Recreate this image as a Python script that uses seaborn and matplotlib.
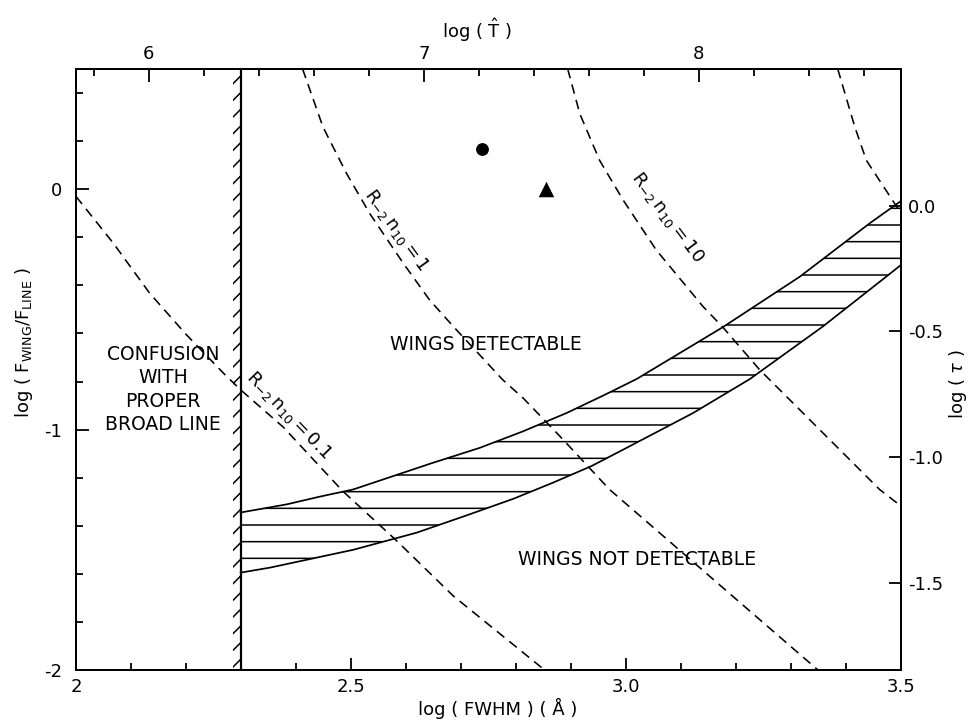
import numpy as np
import pandas as pd
import matplotlib
matplotlib.use("Agg")
import matplotlib.pyplot as plt
from matplotlib.ticker import MultipleLocator, FixedLocator, FixedFormatter
import seaborn as sns

# ---------------- data ----------------
# hatched band of detectability limits
band_upper_x = [2.299, 2.383, 2.443, 2.504, 2.649, 2.734, 2.813, 2.892, 2.958, 3.019, 3.176, 3.316, 3.443, 3.500]
band_upper_y = [-1.345, -1.311, -1.279, -1.249, -1.138, -1.076, -1.007, -0.931, -0.859, -0.790, -0.574, -0.364, -0.142, -0.049]
band_lower_x = [2.299, 2.353, 2.504, 2.619, 2.710, 2.795, 2.867, 2.937, 3.001, 3.122, 3.225, 3.358, 3.473, 3.500]
band_lower_y = [-1.595, -1.574, -1.500, -1.429, -1.357, -1.288, -1.221, -1.152, -1.076, -0.931, -0.790, -0.571, -0.364, -0.315]

# dashed curves R_-2 n_10 = const
curve_01_x = [2.000, 2.068, 2.134, 2.201, 2.268, 2.299, 2.377, 2.485, 2.580, 2.686, 2.852]
curve_01_y = [-0.030, -0.225, -0.433, -0.606, -0.765, -0.834, -0.990, -1.256, -1.456, -1.692, -2.000]
curve_1_x = [2.412, 2.449, 2.492, 2.534, 2.595, 2.643, 2.686, 2.776, 2.813, 2.880, 2.970, 3.200, 3.349]
curve_1_y = [0.500, 0.259, 0.065, -0.101, -0.308, -0.461, -0.571, -0.793, -0.869, -1.028, -1.249, -1.705, -2.000]
curve_10_x = [2.894, 2.916, 2.952, 2.995, 3.055, 3.140, 3.176, 3.243, 3.461, 3.500]
curve_10_y = [0.500, 0.314, 0.120, -0.046, -0.253, -0.488, -0.574, -0.751, -1.249, -1.318]
curve_100_x = [3.385, 3.416, 3.437, 3.500]
curve_100_y = [0.500, 0.259, 0.120, -0.100]

# confusion limit (vertical hatched line)
confusion_x = 2.3

# observed objects
circle_x, circle_y = [2.738], [0.169]
triangle_x, triangle_y = [2.855], [-0.001]

# axes
x_range = [2.0, 3.5]
y_range = [-2.0, 0.5]
xtick_vals = [2.0, 2.5, 3.0, 3.5]
xtick_labels = ["2", "2.5", "3.0", "3.5"]
ytick_vals = [0, -1, -2]
ytick_labels = ["0", "-1", "-2"]
top_slope, top_offset = 2.0, 1.735          # log T = 2 log FWHM + 1.735
top_tick_vals = [6, 7, 8]
top_tick_labels = ["6", "7", "8"]
tau_range = [-1.847, 0.544]
tau_tick_vals = [0.0, -0.5, -1.0, -1.5]
tau_tick_labels = ["0.0", "-0.5", "-1.0", "-1.5"]

curve_labels = [r"$\mathrm{R}_{-2}\,\mathrm{n}_{10}=0.1$",
                r"$\mathrm{R}_{-2}\,\mathrm{n}_{10}=1$",
                r"$\mathrm{R}_{-2}\,\mathrm{n}_{10}=10$"]
region_labels = ["CONFUSION\nWITH\nPROPER\nBROAD LINE", "WINGS DETECTABLE", "WINGS NOT DETECTABLE"]
xlabel = "log ( FWHM ) ( Å )"
ylabel = r"log ( F$_{\mathrm{WING}}$/F$_{\mathrm{LINE}}$ )"
toplabel = r"log ( $\hat{\mathrm{T}}$ )"
rightlabel = r"log ( $\tau$ )"

# ---------------- style ----------------
sns.set_theme(style="ticks", rc={"axes.edgecolor": "black", "xtick.color": "black",
                                 "ytick.color": "black", "text.color": "black",
                                 "axes.labelcolor": "black"})
plt.rcParams["font.family"] = ["DejaVu Sans"]
plt.rcParams["mathtext.fontset"] = "dejavusans"
plt.rcParams["hatch.linewidth"] = 1.1

FS = 13
LW = 1.25
DASH = (0, (6, 4))

fig = plt.figure(figsize=(9.75, 7.22), dpi=100)
ax = fig.add_axes([76 / 975, 1 - 670 / 722, (901 - 76) / 975, (670 - 69) / 722])
ax.set_xlim(*x_range)
ax.set_ylim(*y_range)

# hatched band
poly_x = np.concatenate([band_upper_x, band_lower_x[::-1]])
poly_y = np.concatenate([band_upper_y, band_lower_y[::-1]])
ax.fill(poly_x, poly_y, facecolor="none", edgecolor="black", hatch="-", linewidth=0)
sns.lineplot(x=band_upper_x, y=band_upper_y, ax=ax, color="black", lw=LW, sort=False, estimator=None)
sns.lineplot(x=band_lower_x, y=band_lower_y, ax=ax, color="black", lw=LW, sort=False, estimator=None)

# dashed curves
for cx, cy in [(curve_01_x, curve_01_y), (curve_1_x, curve_1_y),
               (curve_10_x, curve_10_y), (curve_100_x, curve_100_y)]:
    sns.lineplot(x=cx, y=cy, ax=ax, color="black", lw=1.15, linestyle=DASH,
                 sort=False, estimator=None)

# confusion limit line with hatch on its left side
ax.axvline(confusion_x, color="black", lw=1.6)
ax.fill_betweenx(y_range, confusion_x - 0.015, confusion_x, facecolor="none",
                 edgecolor="black", hatch="//", linewidth=0)

# observed points
sns.scatterplot(x=circle_x, y=circle_y, ax=ax, marker="o", s=85, color="black", linewidth=0)
sns.scatterplot(x=triangle_x, y=triangle_y, ax=ax, marker="^", s=125, color="black", linewidth=0)

# region labels
ax.text(2.158, -0.834, region_labels[0], ha="center", va="center", fontsize=13.5,
        linespacing=1.3)
ax.text(2.746, -0.647, region_labels[1], ha="center", va="center", fontsize=13.5)
ax.text(3.020, -1.539, region_labels[2], ha="center", va="center", fontsize=13.5)

# curve labels
ax.text(2.387, -0.938, curve_labels[0], ha="center", va="center", fontsize=FS,
        rotation=-46, rotation_mode="anchor")
ax.text(2.583, -0.170, curve_labels[1], ha="center", va="center", fontsize=FS,
        rotation=-54, rotation_mode="anchor")
ax.text(3.075, -0.115, curve_labels[2], ha="center", va="center", fontsize=FS,
        rotation=-53, rotation_mode="anchor")

# main axis ticks
ax.xaxis.set_major_locator(FixedLocator(xtick_vals))
ax.xaxis.set_major_formatter(FixedFormatter(xtick_labels))
ax.xaxis.set_minor_locator(MultipleLocator(0.1))
ax.yaxis.set_major_locator(FixedLocator(ytick_vals))
ax.yaxis.set_major_formatter(FixedFormatter(ytick_labels))
ax.yaxis.set_minor_locator(MultipleLocator(0.2))
ax.tick_params(which="both", direction="in", top=False, right=False, width=1.3,
               labelsize=FS)
ax.tick_params(which="major", length=9)
ax.tick_params(which="minor", length=5)
ax.tick_params(axis="y", which="major", pad=10)
ax.tick_params(axis="x", which="major", pad=6)
ax.set_xlabel(xlabel, fontsize=FS)
ax.set_ylabel(ylabel, fontsize=FS)
ax.xaxis.set_label_coords(0.5115, -0.046)
ax.yaxis.set_label_coords(-0.05, 0.544)
for s in ax.spines.values():
    s.set_linewidth(1.4)
    s.set_color("black")

# top axis: log T
ax_top = ax.twiny()
ax_top.set_xlim(top_slope * x_range[0] + top_offset, top_slope * x_range[1] + top_offset)
ax_top.xaxis.set_major_locator(FixedLocator(top_tick_vals))
ax_top.xaxis.set_major_formatter(FixedFormatter(top_tick_labels))
ax_top.xaxis.set_minor_locator(MultipleLocator(0.2))
ax_top.tick_params(which="both", direction="in", width=1.3, labelsize=FS, pad=4,
                   left=False, right=False, labelleft=False, labelright=False)
ax_top.tick_params(which="major", length=9)
ax_top.tick_params(which="minor", length=5)
ax_top.set_xlabel(toplabel, fontsize=FS)
ax_top.xaxis.set_label_coords(0.486, 1.052)

# right axis: log tau
ax_r = ax.twinx()
ax_r.set_ylim(*tau_range)
ax_r.yaxis.set_major_locator(FixedLocator(tau_tick_vals))
ax_r.yaxis.set_major_formatter(FixedFormatter(tau_tick_labels))
ax_r.yaxis.set_minor_locator(FixedLocator([]))
ax_r.tick_params(axis="y", which="both", direction="in", width=1.3, length=9,
                 labelsize=FS, pad=5)
ax_r.tick_params(axis="x", which="both", top=False, bottom=False, labeltop=False, labelbottom=False)
ax_r.set_ylabel(rightlabel, fontsize=FS, rotation=90)
ax_r.yaxis.set_label_coords(1.056, 0.476)

for a in (ax_top, ax_r):
    for s in a.spines.values():
        s.set_linewidth(1.4)
        s.set_color("black")

fig.savefig("out.png", dpi=100, facecolor="white")
